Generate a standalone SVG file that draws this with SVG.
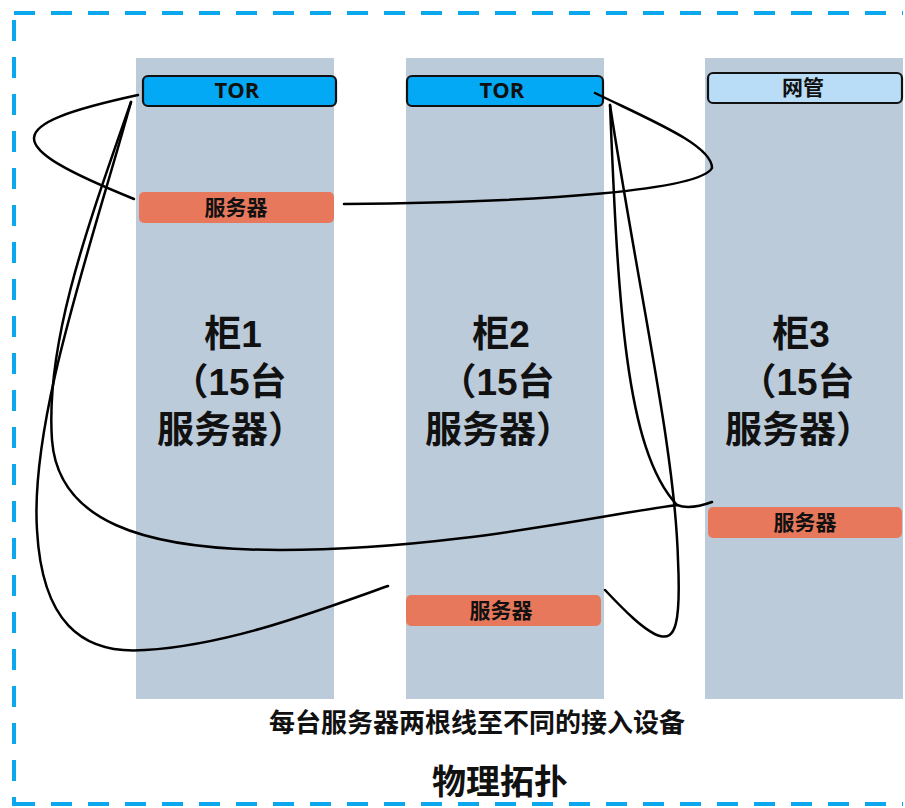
<svg xmlns="http://www.w3.org/2000/svg" width="905" height="808" viewBox="0 0 905 808">
<style>
.cab{fill:#BCCBDA}
.tor{fill:#03A9F4;stroke:#111;stroke-width:2.2}
.nms{fill:#B9DDF6;stroke:#111;stroke-width:2.2}
.srv{fill:#E8785C}
.t{font-family:"Open Sans","Noto Sans CJK SC",sans-serif;font-weight:bold;fill:#111;text-anchor:middle}
.big{font-family:"Liberation Sans","Noto Sans CJK SC",sans-serif;font-weight:bold;fill:#111;text-anchor:middle;font-size:37px}
.wire{fill:none;stroke:#000;stroke-width:2.5;stroke-linecap:round}
.border{fill:none;stroke:#0BA8EE;stroke-width:4;stroke-dasharray:21 16}
</style>
<rect width="905" height="808" fill="#fff"/>
<path class="border" d="M14,13 H903"/>
<path class="border" d="M14,20 V806"/>
<path class="border" d="M14,804 H903"/>

<g id="cabinet1">
<rect class="cab" x="136" y="58" width="198" height="641"/>
<text class="big"><tspan x="233" y="347">柜1</tspan><tspan x="229" y="395">（15台</tspan><tspan x="231" y="443">服务器）</tspan></text>
</g>
<g id="cabinet2">
<rect class="cab" x="406" y="58" width="198" height="641"/>
<text class="big"><tspan x="501" y="347">柜2</tspan><tspan x="497" y="395">（15台</tspan><tspan x="499" y="443">服务器）</tspan></text>
</g>
<g id="cabinet3">
<rect class="cab" x="705" y="58" width="198" height="641"/>
<text class="big"><tspan x="801" y="347">柜3</tspan><tspan x="797" y="395">（15台</tspan><tspan x="799" y="443">服务器）</tspan></text>
</g>

<g id="tor1">
<rect class="tor" x="143" y="76" width="193" height="30" rx="5"/>
<text class="t" x="237" y="98" font-size="22">TOR</text>
</g>
<g id="tor2">
<rect class="tor" x="407" y="76" width="196" height="30" rx="5"/>
<text class="t" x="502" y="98" font-size="22">TOR</text>
</g>
<g id="nms">
<rect class="nms" x="708" y="73" width="194" height="30" rx="5"/>
<text class="t" x="803" y="95" font-size="21">网管</text>
</g>
<g id="server1">
<rect class="srv" x="139" y="192" width="195" height="31" rx="5"/>
<text class="t" x="236" y="215" font-size="21">服务器</text>
</g>
<g id="server2">
<rect class="srv" x="406" y="595" width="195" height="31" rx="5"/>
<text class="t" x="501" y="618" font-size="21">服务器</text>
</g>
<g id="server3">
<rect class="srv" x="708" y="507" width="194" height="31" rx="5"/>
<text class="t" x="805" y="530" font-size="21">服务器</text>
</g>

<g id="connectors">
<path class="wire" d="M138,95 C0,125 0,145 134,199"/>
<path class="wire" d="M344,204 C550,202 700,190 712,168 C712,145 650,120 595,93"/>
<path class="wire" d="M131,102 C90,220 45,340 52,440 C58,520 140,550 280,550 C450,550 600,515 677,505 Q690,510 712,502"/>
<path class="wire" d="M131,102 C90,250 30,420 37,530 C42,620 80,655 145,650 C230,645 320,610 388,586"/>
<path class="wire" d="M610,105 C618,300 625,450 677,505"/>
<path class="wire" d="M610,105 C640,300 675,450 678,560 C681,625 675,640 660,636 C645,632 622,608 605,590"/>
</g>

<g id="captions">
<text class="t" x="477" y="732" font-size="26">每台服务器两根线至不同的接入设备</text>
<text class="t" x="500" y="794" font-size="34">物理拓扑</text>
</g>
</svg>
